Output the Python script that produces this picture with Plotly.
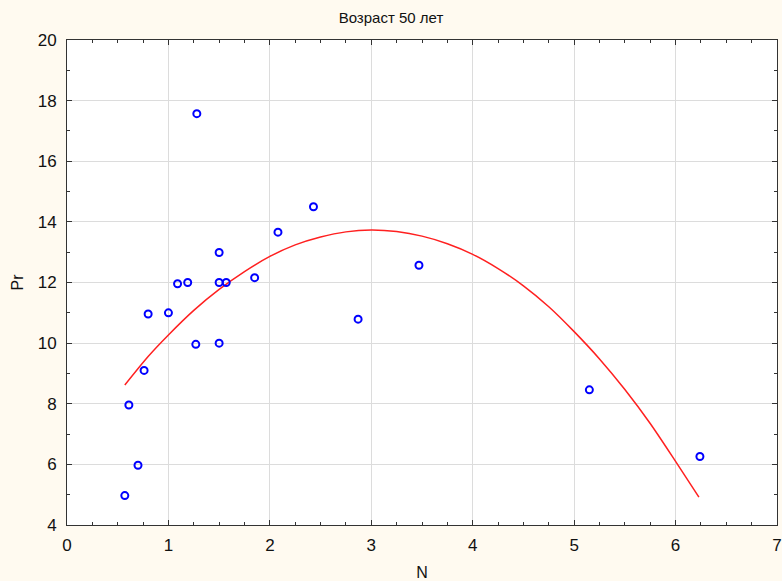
import plotly.graph_objects as go

# Scatter data (N, Pr)
n_vals = [0.57, 0.61, 0.70, 0.76, 0.80, 1.00, 1.09, 1.19, 1.28, 1.27, 1.50, 1.50, 1.50, 1.57,
          1.85, 2.08, 2.43, 2.87, 3.47, 5.15, 6.24]
pr_vals = [4.97, 7.96, 5.97, 9.10, 10.96, 11.00, 11.96, 12.00, 17.57, 9.96, 12.99, 12.00, 10.00, 12.00,
           12.16, 13.66, 14.50, 10.79, 12.57, 8.46, 6.26]

# Fitted curve
fit_n = [0.57, 0.80, 1.00, 1.25, 1.50, 1.75, 2.00, 2.25, 2.50, 2.75, 3.00, 3.25, 3.50, 3.75, 4.00,
         4.25, 4.50, 4.75, 5.00, 5.25, 5.50, 5.75, 6.00, 6.23]
fit_pr = [8.62, 9.56, 10.27, 11.08, 11.77, 12.36, 12.86, 13.24, 13.50, 13.67, 13.73, 13.68, 13.53, 13.28, 12.93,
          12.46, 11.89, 11.20, 10.38, 9.48, 8.47, 7.35, 6.10, 4.92]

title_text = "Возраст 50 лет"
x_title = "N"
y_title = "Pr"

font_family = "Liberation Sans Narrow, Arial Narrow, Liberation Sans, Arial, sans-serif"

fig = go.Figure()
fig.add_trace(go.Scatter(
    x=fit_n, y=fit_pr, mode="lines", line=dict(color="#ff2020", width=1.5, shape="spline", smoothing=0.8),
    showlegend=False, hoverinfo="skip"))
fig.add_trace(go.Scatter(
    x=n_vals, y=pr_vals, mode="markers",
    marker=dict(symbol="circle-open", size=7, color="#0000ff", line=dict(width=2, color="#0000ff")),
    showlegend=False))

axis_common = dict(
    showgrid=True, gridcolor="#dcdcdc", gridwidth=1,
    showline=True, linecolor="#333333", linewidth=1, mirror="ticks",
    ticks="inside", ticklen=5, tickcolor="#333333",
    zeroline=False, automargin=False,
    tickfont=dict(family=font_family, size=17, color="#111111"),
    title_font=dict(family=font_family, size=16, color="#111111"),
)

fig.update_layout(
    width=782, height=581,
    margin=dict(l=67, r=5, t=40, b=56),
    paper_bgcolor="#fffaf0",
    plot_bgcolor="#ffffff",
    title=dict(text=title_text, x=0.5, xanchor="center", y=1 - 18 / 581, yanchor="middle",
               font=dict(family=font_family, size=15, color="#111111")),
    xaxis=dict(range=[0, 7], dtick=1, tick0=0, title=dict(text=x_title, standoff=13),
               ticklabelstandoff=5, ticklabeloverflow="allow",
               minor=dict(dtick=0.25, ticks="inside", ticklen=3, tickcolor="#333333", showgrid=False),
               **axis_common),
    yaxis=dict(range=[4, 20], dtick=2, tick0=4, title=dict(text=y_title, standoff=10),
               ticklabelstandoff=6, ticklabeloverflow="allow",
               minor=dict(dtick=1, ticks="inside", ticklen=3, tickcolor="#333333", showgrid=False),
               **axis_common),
)

fig.write_html(
    "out.html",
    config={"displayModeBar": False},
    post_script="document.body.style.margin='0';document.body.style.background='#fffaf0';",
)
